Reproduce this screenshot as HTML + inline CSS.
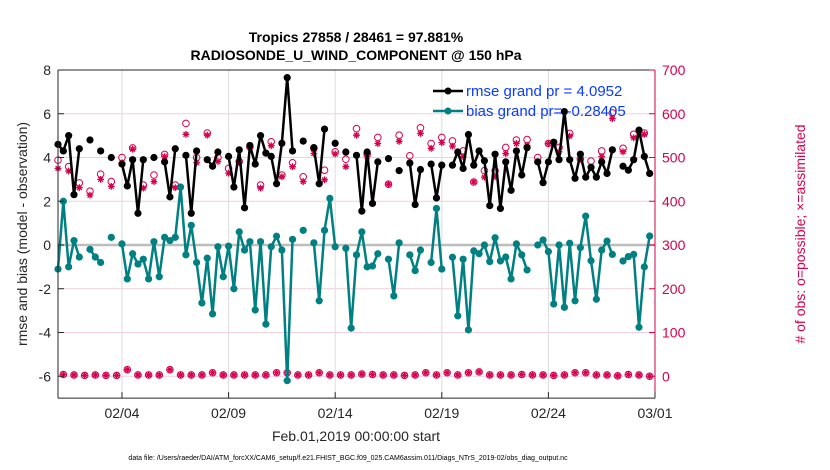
<!DOCTYPE html>
<html><head><meta charset="utf-8"><style>
body{margin:0;background:#fff;}
svg{display:block;font-family:"Liberation Sans",Arial,sans-serif;}
</style></head><body>
<svg id="chart" width="830" height="470" viewBox="0 0 830 470" xmlns="http://www.w3.org/2000/svg">
<rect width="830" height="470" fill="#fff"/>
<text x="356" y="42" text-anchor="middle" font-size="14" font-weight="bold" fill="#000">Tropics 27858 / 28461 = 97.881%</text>
<text x="356" y="60" text-anchor="middle" font-size="14" font-weight="bold" fill="#000">RADIOSONDE_U_WIND_COMPONENT @ 150 hPa</text>
<g id="grid"></g>
<g id="marks"></g>
<g id="axes"></g>
<text transform="translate(27,234) rotate(-90)" text-anchor="middle" font-size="14" fill="#262626">rmse and bias (model - observation)</text>
<text transform="translate(805,234) rotate(-90)" text-anchor="middle" font-size="14" fill="#d6004e"># of obs: o=possible; ×=assimilated</text>
<text x="356" y="441" text-anchor="middle" font-size="14" fill="#262626">Feb.01,2019 00:00:00 start</text>
<text x="348" y="460" text-anchor="middle" font-size="7" fill="#000">data file: /Users/raeder/DAI/ATM_forcXX/CAM6_setup/f.e21.FHIST_BGC.f09_025.CAM6assim.011/Diags_NTrS_2019-02/obs_diag_output.nc</text>
<g id="legend">
  <g>
    <line x1="433" y1="91" x2="463" y2="91" stroke="#000" stroke-width="2.5"/>
    <circle cx="448" cy="91" r="3.5" fill="#000"/>
    <text x="466" y="96" font-size="15" fill="#0a3cff">rmse grand pr = 4.0952</text>
  </g>
  <g>
    <line x1="433" y1="111" x2="463" y2="111" stroke="#008080" stroke-width="2.5"/>
    <circle cx="448" cy="111" r="3.5" fill="#008080"/>
    <text x="466" y="116" font-size="15" fill="#0a3cff">bias grand pr= -0.28405</text>
  </g>
</g>
</svg>
<script>
const rmse=[4.6,4.3,5.0,2.3,4.4,null,4.8,null,4.3,null,
4.0,null,3.7,2.7,3.9,1.45,3.9,null,4.0,null,
3.8,2.2,4.4,null,4.1,1.45,4.3,null,3.9,3.6,
4.25,null,4.05,2.65,4.35,1.7,4.55,3.7,5.0,4.2,
4.05,2.8,4.65,7.65,4.3,null,4.75,null,4.45,2.8,
5.3,null,4.65,null,4.25,null,4.1,1.55,4.25,1.9,
3.8,null,3.95,null,3.4,null,3.75,1.85,3.45,null,
3.7,2.15,3.65,null,3.65,4.25,3.5,5.05,3.65,4.3,
3.85,1.8,4.15,1.67,3.8,2.5,4.3,3.2,4.45,null,
3.8,2.85,3.8,4.7,3.9,6.1,3.9,3.05,4.15,3.1,
3.55,3.1,3.8,3.27,4.35,null,3.6,3.42,3.9,5.25,
4.05,3.27];
const bias=[-1.1,2.0,-1.0,0.2,-0.55,null,-0.2,-0.55,-0.8,null,
0.35,null,0.05,-1.55,-0.4,-0.87,-0.65,-1.55,0.15,-1.45,
0.35,0.2,0.35,2.65,-0.45,0.9,-0.8,-2.65,-0.6,-3.15,
-0.08,-1.45,-0.05,-2.0,0.6,-0.23,0.15,-2.97,0.15,-3.62,
-0.08,0.4,-0.23,-6.2,0.26,null,0.67,null,0.1,-2.55,
0.67,2.13,-0.08,null,-0.15,-3.8,-0.45,0.6,-1.0,-0.96,
-0.4,null,-0.65,-2.33,0.1,null,-0.45,-1.17,-0.23,null,
-0.8,1.67,-1.1,null,-0.56,-3.24,-0.65,-3.88,-0.27,-0.4,
0,-0.76,0.33,-0.73,-0.55,-1.55,0.05,-0.45,-1.14,null,
0,0.23,-0.3,-2.7,0,-2.85,0.08,-2.55,-0.12,1.32,
-0.72,-2.48,-0.23,0.18,-0.43,null,-0.73,-0.53,-0.43,-3.76,
-1.0,0.41];
// counts at 00Z/12Z (even steps) and 06Z/18Z (odd steps)
const possibleSyn=[494,479,442,423,462,445,500,522,437,460,507,437,578,500,556,500,475,491,524,437,536,460,488,456,521,471,513,496,566,508,546,439,551,504,568,532,546,538,515,444,470,470,523,540,541,500,532,523,555,497,492,515,602,521,553,556];
const assimSyn=[475,469,431,414,450,434,488,519,430,445,502,431,553,488,551,491,464,488,523,430,527,456,479,445,509,449,508,479,551,502,532,439,537,486,555,521,534,526,502,444,455,456,509,532,528,490,532,513,549,497,478,502,589,513,545,553];
const possibleOff=[4,3,2,3,2,2,15,3,3,3,15,3,3,3,8,3,3,3,3,3,8,8,3,3,8,3,3,3,5,4,3,3,2,3,8,3,8,3,8,10,3,3,3,4,3,3,2,3,8,8,3,3,1,4,3,0];
const assimOff=[4,3,2,3,2,2,15,3,3,3,15,3,3,3,8,3,3,3,3,3,8,8,3,3,8,3,3,3,5,4,3,3,2,3,8,3,8,3,8,10,3,3,3,4,3,3,2,3,8,8,3,3,1,4,3,0];
const leftTicks=[-6,-4,-2,0,2,4,6,8];
const rightTicks=[0,100,200,300,400,500,600,700];
const dateTicks=[3,8,13,18,23,28];
const dateLabels=["02/04","02/09","02/14","02/19","02/24","03/01"];

const X0=58,X1=655,Y0=70,Y1=398.1,NSTEP=112;
const xs=i=>X0+i*(X1-X0)/NSTEP;
const xd=d=>X0+d*(X1-X0)/28;
const yl=v=>245-v*21.875;
const yr=c=>376.25-c*0.4375;
const NS="http://www.w3.org/2000/svg";
function mk(tag,attrs,parent){const e=document.createElementNS(NS,tag);for(const k in attrs)e.setAttribute(k,attrs[k]);parent.appendChild(e);return e;}
const grid=document.getElementById('grid'),marks=document.getElementById('marks'),axes=document.getElementById('axes');

rightTicks.forEach(t=>{const g=mk('line',{x1:X0,x2:X1,y1:yr(t),y2:yr(t),stroke:'#f0d0dc','stroke-width':1},grid);

});
dateTicks.forEach(d=>{const g=mk('line',{x1:xd(d),x2:xd(d),y1:Y0,y2:Y1,stroke:'#dcdcdc','stroke-width':1},grid);

});
const z=mk('line',{x1:X0,x2:X1,y1:yl(0),y2:yl(0),stroke:'#bdbdbd','stroke-width':2.5},grid);



function series(vals,color,name){
  const g=mk('g',{},marks);
  
  
  let seg=[];
  const flush=()=>{if(seg.length>1){const p=mk('polyline',{points:seg.join(' '),fill:'none',stroke:color,'stroke-width':2.5,'stroke-linejoin':'round'},g);
    
    }seg=[];};
  vals.forEach((v,i)=>{if(v===null){flush();return;}seg.push(xs(i)+','+yl(v));});
  flush();
  vals.forEach((v,i)=>{if(v===null)return;const c=mk('circle',{cx:xs(i),cy:yl(v),r:3.6,fill:color},g);
    
    });
}
function obsSeries(syn,off,isPossible,name){
  const g=mk('g',{},marks);
  
  
  const draw=(i,c)=>{const x=xs(i),y=yr(c);
    if(isPossible){const e=mk('circle',{cx:x,cy:y,r:3.3,fill:'none',stroke:'#d6004e','stroke-width':1},g);
      
      }
    else{const s=3.4,d='M'+(x-s)+' '+y+'H'+(x+s)+'M'+x+' '+(y-s)+'V'+(y+s)+'M'+(x-2.4)+' '+(y-2.4)+'L'+(x+2.4)+' '+(y+2.4)+'M'+(x-2.4)+' '+(y+2.4)+'L'+(x+2.4)+' '+(y-2.4);
      const e=mk('path',{d:d,stroke:'#d6004e','stroke-width':1.3,fill:'none'},g);
      
      }};
  syn.forEach((c,k)=>draw(2*k,c));
  off.forEach((c,k)=>draw(2*k+1,c));
}
obsSeries(possibleSyn,possibleOff,true,'possible-obs-series');
obsSeries(assimSyn,assimOff,false,'assimilated-obs-series');
series(bias,'#008080','bias-series');
series(rmse,'#000000','rmse-series');

// axes
const sp=(a,c,n)=>{const l=mk('line',a,axes);l.setAttribute('stroke',c);l.setAttribute('stroke-width',1);
  
  };
sp({x1:X0,x2:X1,y1:Y0,y2:Y0},'#262626','top-spine');
sp({x1:X0,x2:X1,y1:Y1,y2:Y1},'#262626','bottom-spine');
sp({x1:X0,x2:X0,y1:Y0,y2:Y1},'#262626','left-spine');
sp({x1:X1,x2:X1,y1:Y0,y2:Y1},'#d6004e','right-spine');
leftTicks.forEach(t=>{mk('line',{x1:X0,x2:X0+6,y1:yl(t),y2:yl(t),stroke:'#262626'},axes);
  const tx=mk('text',{x:X0-7,y:yl(t)+5,'text-anchor':'end','font-size':14,fill:'#262626'},axes);tx.textContent=t;
  
  });
rightTicks.forEach(t=>{mk('line',{x1:X1-6,x2:X1,y1:yr(t),y2:yr(t),stroke:'#d6004e'},axes);
  const tx=mk('text',{x:X1+7,y:yr(t)+5,'font-size':14,fill:'#d6004e'},axes);tx.textContent=t;
  
  });
dateTicks.forEach((d,k)=>{mk('line',{x1:xd(d),x2:xd(d),y1:Y1,y2:Y1-6,stroke:'#262626'},axes);
  const tx=mk('text',{x:xd(d),y:418,'text-anchor':'middle','font-size':14,fill:'#262626'},axes);tx.textContent=dateLabels[k];
  
  });
</script>
</body></html>
